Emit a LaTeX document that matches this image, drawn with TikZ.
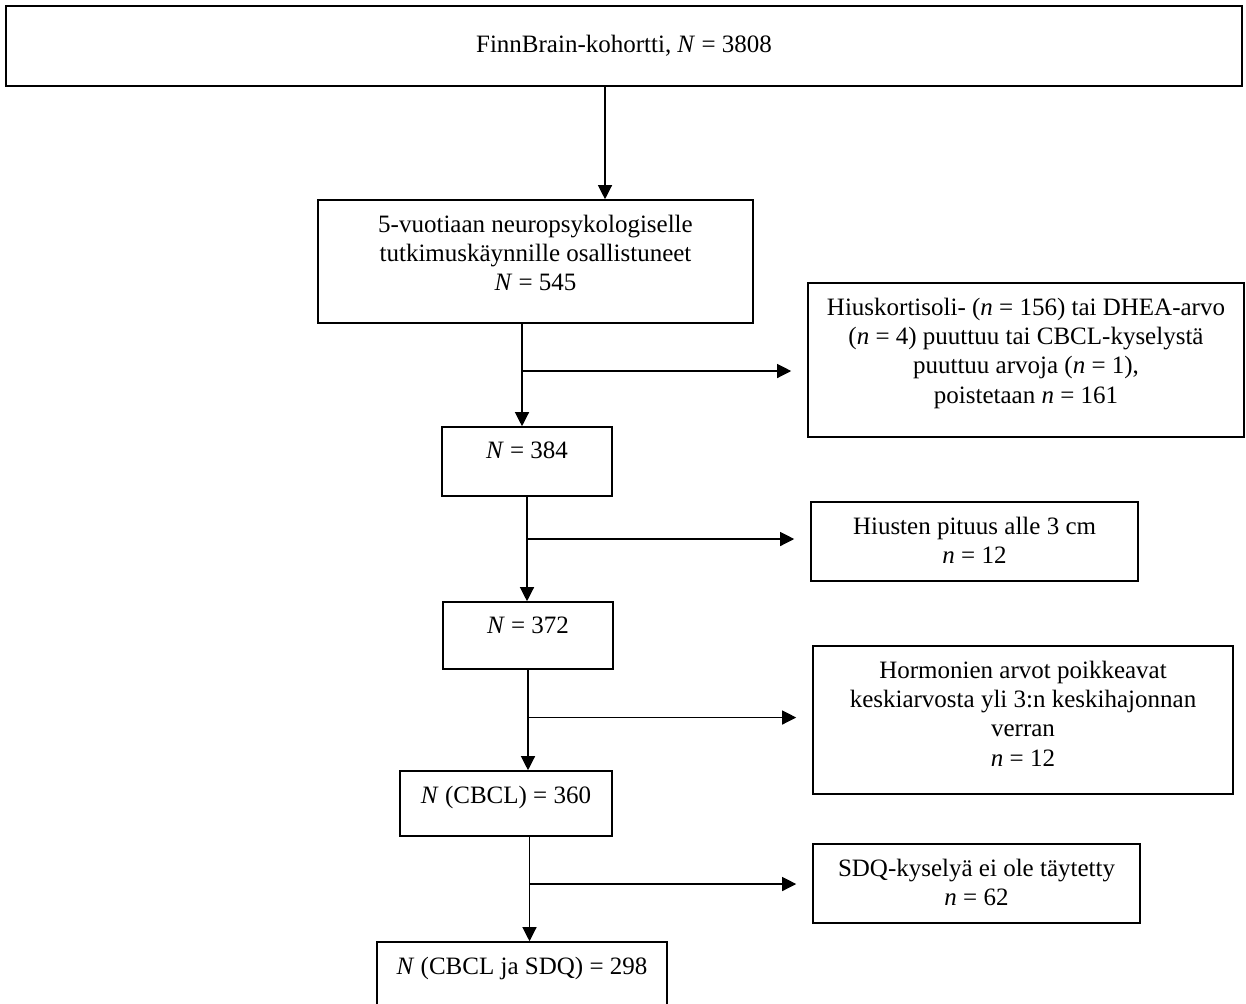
\documentclass[tikz,border=0pt]{standalone}
\usepackage{fontspec}
\setmainfont{Liberation Serif}
\usetikzlibrary{positioning}
\usetikzlibrary{arrows.meta}
\tikzset{
    mybox/.style = {rectangle, draw=black, line width=0.8pt, inner sep=0pt},
    mytopbox/.style = {rectangle, draw=black, line width=1.3pt, inner sep=0pt, font=\fontsize{12.5pt}{14.6pt}\selectfont},
    mytext/.style = {align=center, inner sep=0pt, font=\fontsize{12.5pt}{14.6pt}\selectfont},
    edgen/.style = {-{Triangle[length=7pt,width=7pt]}, line width=0.6pt},
    edger/.style = {-{Triangle[length=7pt,width=7pt]}, line width=0.6pt, shorten >=8pt}, % to the side boxes
}

\begin{document}
\begin{tikzpicture}[x=0.5pt,y=-0.5pt]
\path[use as bounding box] (0,0) rectangle (1246,1003);
\clip (0,0) rectangle (1246,1003);
%
\node[mytopbox,minimum width=618pt,minimum height=40pt] at (624,46) (top) {FinnBrain-kohortti, \textit{N} = 3808};
\node[mybox,minimum width=217.5pt,minimum height=61.5pt] at (535.5,261.5) (b545) {};
\node[mybox,minimum width=85pt,minimum height=34.5pt] at (527,461.5) (b384) {};
\node[mybox,minimum width=85pt,minimum height=33.5pt] at (528,635.5) (b372) {};
\node[mybox,minimum width=106pt,minimum height=32.5pt] at (506,803.5) (bcbcl) {};
\node[mybox,minimum width=145pt,minimum height=34pt] at (522,976) (bsdq) {};
%
\node[mybox,minimum width=218pt,minimum height=77pt] at (1026,360) (r1) {};
\node[mybox,minimum width=163.5pt,minimum height=39.5pt] at (974.5,541.5) (r2) {};
\node[mybox,minimum width=210pt,minimum height=74pt] at (1023,720) (r3) {};
\node[mybox,minimum width=163.5pt,minimum height=39.5pt] at (976.5,883.5) (r4) {};
%
\node[mytext,below=7.8pt of b545.north] (t545) {5-vuotiaan neuropsykologiselle\\tutkimuskäynnille osallistuneet\\\textit{N} = 545};
\node[mytext,below=7.8pt of b384.north] (t384) {\textit{N} = 384};
\node[mytext,below=7.8pt of b372.north] (t372) {\textit{N} = 372};
\node[mytext,below=7.8pt of bcbcl.north] (tcbcl) {\textit{N} (CBCL) = 360};
\node[mytext,below=7.8pt of bsdq.north] (tsdq) {\textit{N} (CBCL ja SDQ) = 298};
\node[mytext,below=7.8pt of r1.north] (tr1) {Hiuskortisoli- (\textit{n} = 156) tai DHEA-arvo\\(\textit{n} = 4) puuttuu tai CBCL-kyselystä\\puuttuu arvoja (\textit{n} = 1),\\poistetaan \textit{n} = 161};
\node[mytext,below=7.8pt of r2.north] (tr2) {Hiusten pituus alle 3 cm\\\textit{n} = 12};
\node[mytext,below=7.8pt of r3.north] (tr3) {Hormonien arvot poikkeavat\\keskiarvosta yli 3:n keskihajonnan\\verran\\\textit{n} = 12};
\node[mytext,below=7.8pt of r4.north] (tr4) {SDQ-kyselyä ei ole täytetty\\\textit{n} = 62};
%
\coordinate (c0) at (605,0);
\coordinate (j1) at (522,371);
\coordinate (j2) at (527,539);
\coordinate (j3) at (528,717.5);
\coordinate (j4) at (529.5,884);
%
\draw[edgen] (top.south -| c0) -- (b545.north -| c0);
\draw[edgen] (b545.south -| j1) -- (b384.north -| j1);
\draw[edgen] (b384.south -| j2) -- (b372.north -| j2);
\draw[edgen] (b372.south -| j3) -- (bcbcl.north -| j3);
\draw[edgen] (bcbcl.south -| j4) -- (bsdq.north -| j4);
\draw[edger] (j1) -- (r1.west |- j1);
\draw[edger] (j2) -- (r2.west |- j2);
\draw[edger] (j3) -- (r3.west |- j3);
\draw[edger] (j4) -- (r4.west |- j4);

\end{tikzpicture}
\end{document}
